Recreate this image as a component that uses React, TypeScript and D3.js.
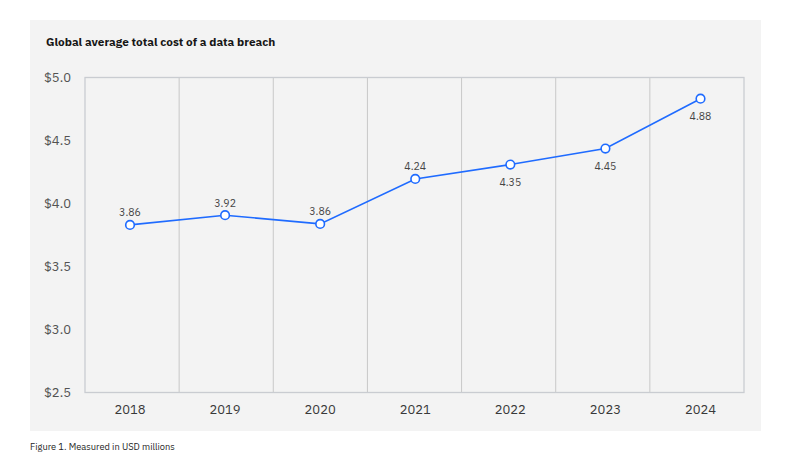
import React from "react";
import * as d3 from "d3";

const years = ["2018", "2019", "2020", "2021", "2022", "2023", "2024"];
// point positions
const values = [3.83, 3.907, 3.838, 4.195, 4.309, 4.436, 4.832];
// printed data labels
const valueLabels = ["3.86", "3.92", "3.86", "4.24", "4.35", "4.45", "4.88"];
const labelAbove = [true, true, true, true, false, false, false];
const yTicks = [2.5, 3.0, 3.5, 4.0, 4.5, 5.0];
const title = "Global average total cost of a data breach";
const footnote = "Figure 1. Measured in USD millions";

const W = 791;
const H = 459;
const FONT = "'IBM Plex Sans', 'Noto Sans', 'Open Sans', sans-serif";

export default function App() {
  const plotL = 85, plotR = 744, plotT = 77.5, plotB = 392.5;
  const y = d3.scaleLinear().domain([2.5, 5.0]).range([plotB, plotT]);
  const band = d3.scaleBand().domain(years).range([plotL, plotR]);
  const x = d3.scalePoint().domain(years).range([130, 700.5]);
  const line = d3
    .line<number>()
    .x((_, i) => x(years[i]) as number)
    .y((d) => y(d));

  const gridXs = years.slice(1).map((yr) => band(yr) as number);
  const blue = "#1f6bff";

  return (
    <svg
      width={W}
      height={H}
      style={{ position: "absolute", left: 0, top: 0, display: "block", background: "#fff" }}
      fontFamily={FONT}
    >
      <rect x={30} y={20} width={731} height={411} fill="#f3f3f3" />
      <text x={46} y={45.5} fontSize={11.8} fontWeight={700} fill="#161616">
        {title}
      </text>
      {/* vertical grid lines */}
      {gridXs.map((gx, i) => (
        <line key={i} x1={gx} x2={gx} y1={plotT} y2={plotB} stroke="#c8c8c8" strokeWidth={1} />
      ))}
      {/* frame */}
      <rect
        x={plotL}
        y={plotT}
        width={plotR - plotL}
        height={plotB - plotT}
        fill="none"
        stroke="#c9ccd1"
        strokeWidth={1.3}
      />
      {/* y axis labels */}
      {yTicks.map((t) => (
        <text
          key={t}
          x={71}
          y={y(t)}
          dy="0.35em"
          textAnchor="end"
          fontSize={13}
          fill="#525252"
        >
          {"$" + d3.format(".1f")(t)}
        </text>
      ))}
      {/* x axis labels */}
      {years.map((yr) => (
        <text
          key={yr}
          x={x(yr) as number}
          y={409.5}
          dy="0.35em"
          textAnchor="middle"
          fontSize={13}
          fill="#393939"
        >
          {yr}
        </text>
      ))}
      <path d={line(values) || ""} fill="none" stroke={blue} strokeWidth={1.6} />
      {values.map((v, i) => (
        <circle
          key={i}
          cx={x(years[i]) as number}
          cy={y(v)}
          r={4.3}
          fill="#fff"
          stroke={blue}
          strokeWidth={1.6}
        />
      ))}
      {values.map((v, i) => (
        <text
          key={"l" + i}
          x={x(years[i]) as number}
          y={y(v) + (labelAbove[i] ? -12.3 : 17.5)}
          dy="0.35em"
          textAnchor="middle"
          fontSize={10.5}
          fill="#454545"
        >
          {valueLabels[i]}
        </text>
      ))}
      <text x={30} y={446.5} dy="0.35em" fontSize={9.3} fill="#262626">
        {footnote}
      </text>
    </svg>
  );
}
